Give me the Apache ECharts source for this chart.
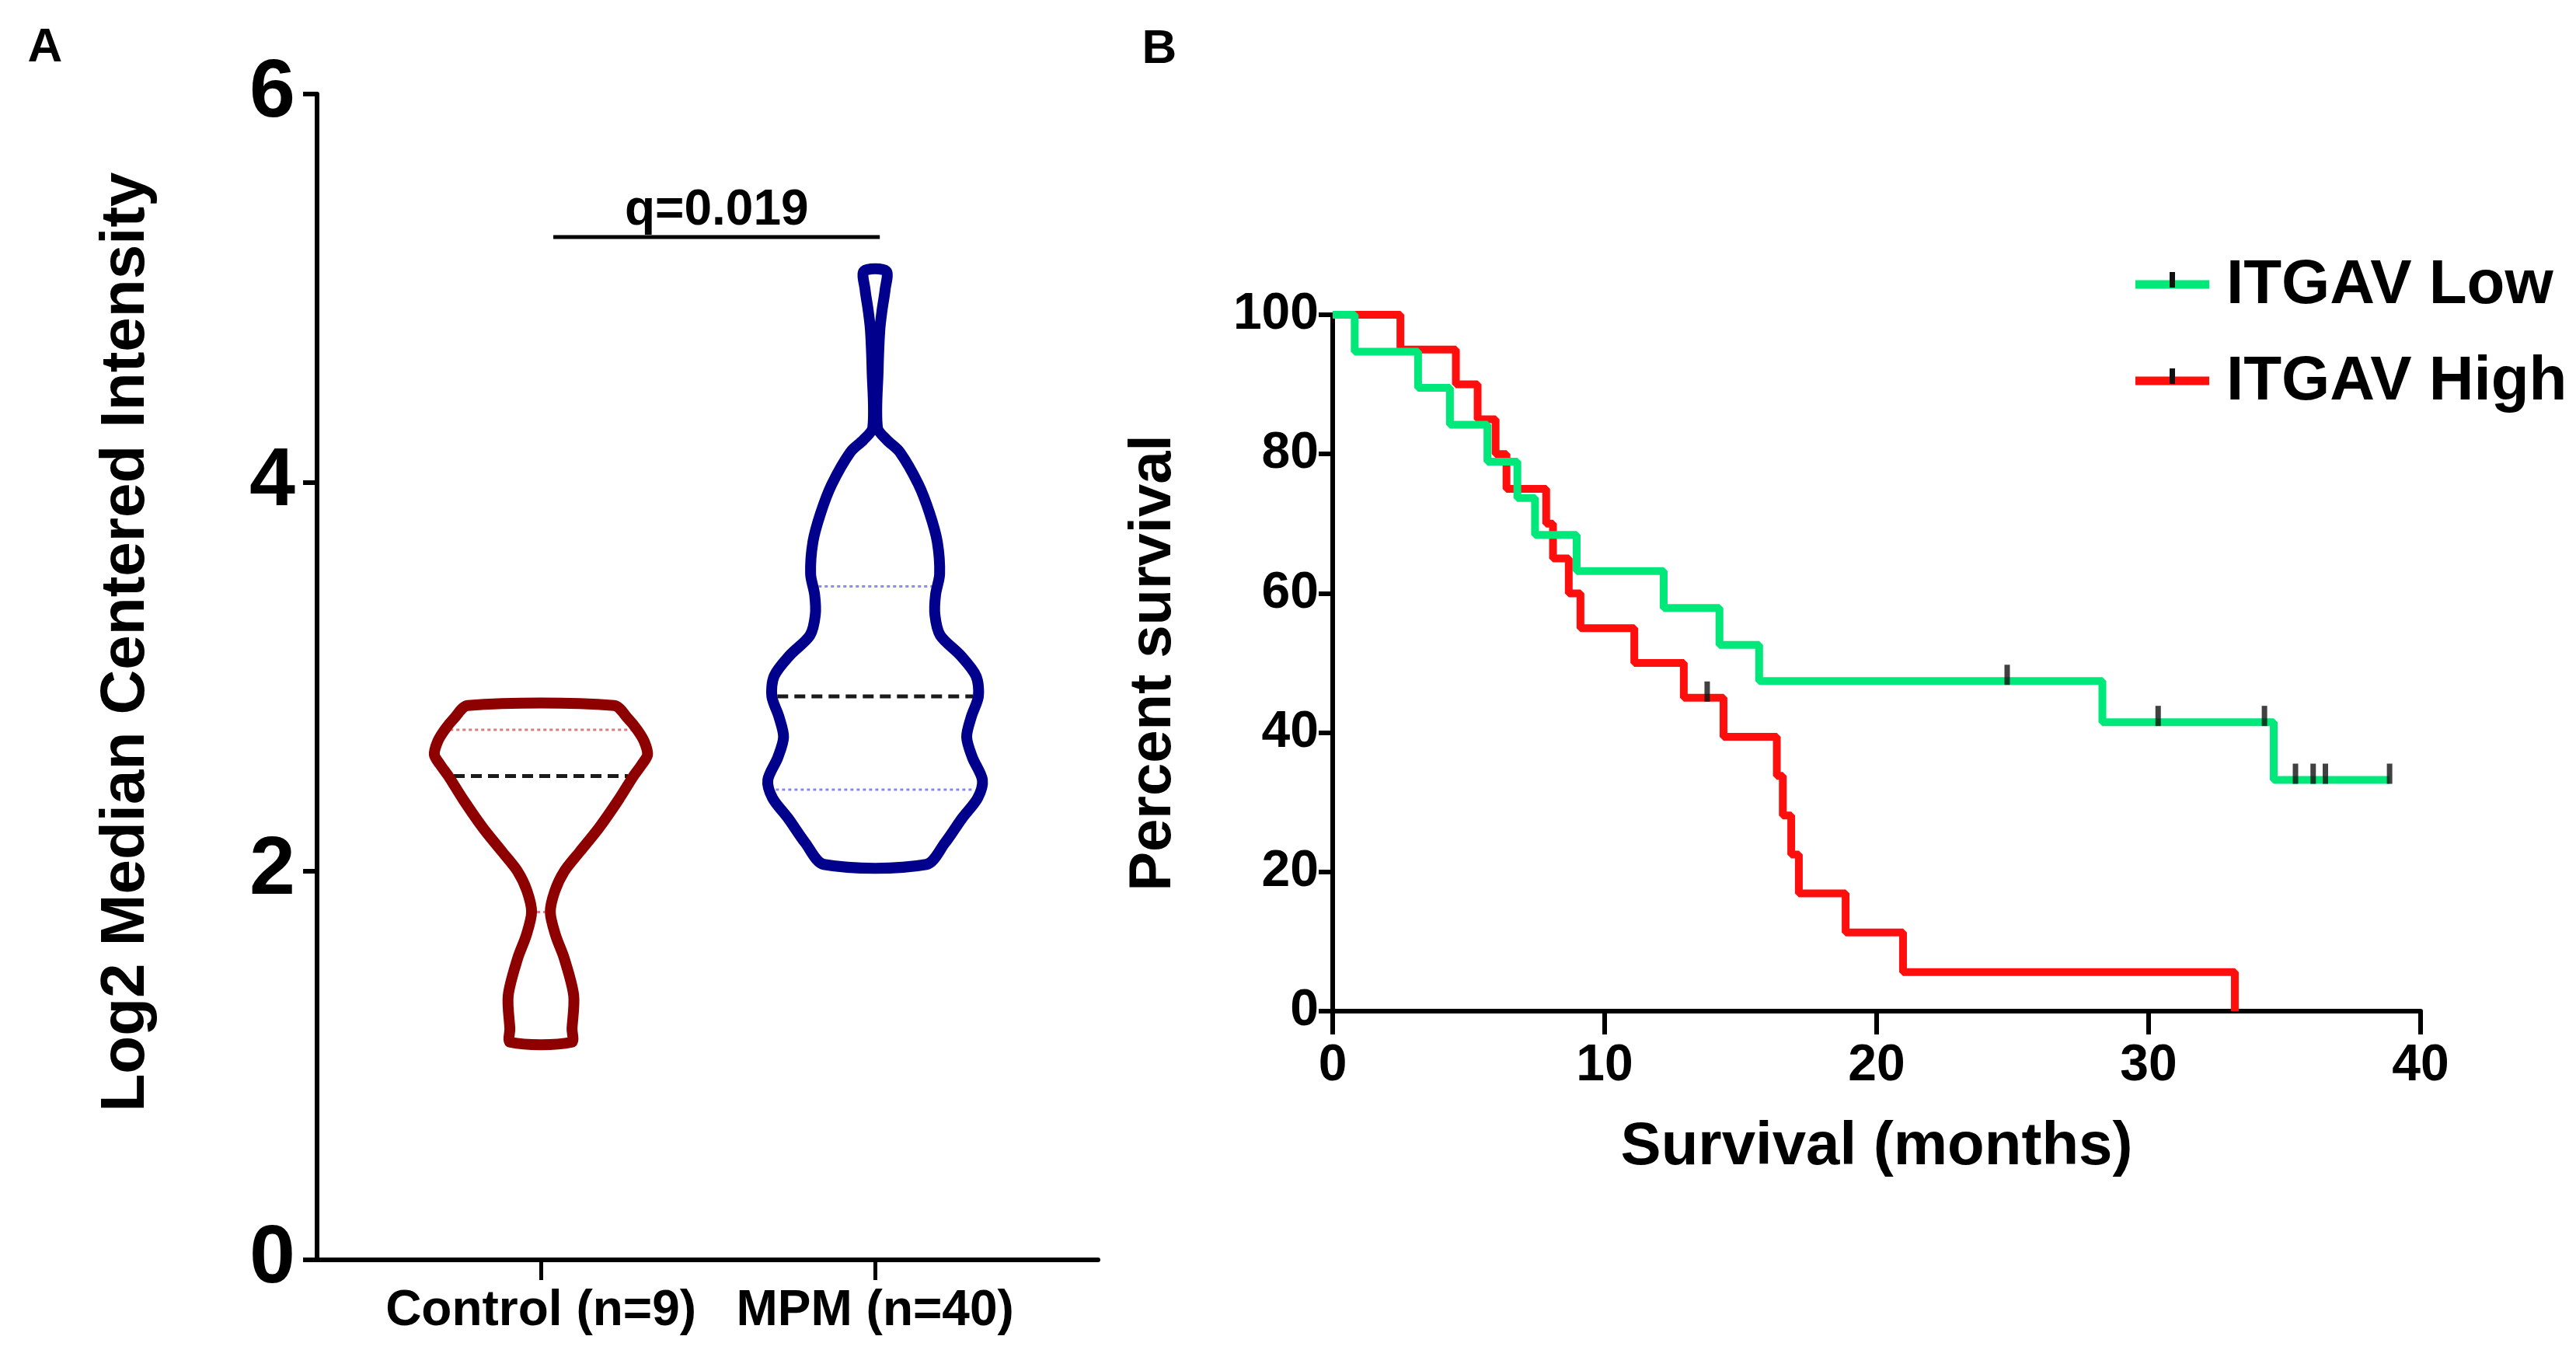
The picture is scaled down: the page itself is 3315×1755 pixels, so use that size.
<!DOCTYPE html>
<html>
<head>
<meta charset="utf-8">
<script src="https://cdn.jsdelivr.net/npm/echarts@6.0.0/dist/echarts.min.js"></script>
<style>
  html, body { margin: 0; padding: 0; background: #fff; }
  #chart { width: 3315px; height: 1755px; }
</style>
</head>
<body>
<div id="chart"></div>
<script>
// Panel A: violin outlines (level, half width in category units)
var groupNames = ['Control (n=9)', 'MPM (n=40)'];

var controlLevels = [2.853, 2.787, 2.728, 2.668, 2.60, 2.55, 2.49, 2.37, 2.224, 2.10, 2.00, 1.90, 1.79, 1.67, 1.55, 1.36, 1.19, 1.12];
var controlHalf   = [0.219, 0.260, 0.288, 0.309, 0.319, 0.302, 0.277, 0.233, 0.174, 0.116, 0.070, 0.042, 0.028, 0.044, 0.070, 0.098, 0.093, 0.091];
var controlStats  = [1.79, 2.49, 2.728];   // q1, median, q3

var mpmLevels = [5.089, 4.994, 4.890, 4.785, 4.576, 4.283, 4.22, 4.157, 3.99, 3.843, 3.696, 3.529, 3.424, 3.319, 3.214, 3.110, 3.005, 2.900, 2.796, 2.691, 2.586, 2.470, 2.377, 2.272, 2.146, 2.035];
var mpmHalf   = [0.033, 0.030, 0.021, 0.014, 0.009, 0.007, 0.035, 0.074, 0.130, 0.163, 0.186, 0.193, 0.181, 0.179, 0.195, 0.256, 0.302, 0.309, 0.288, 0.274, 0.291, 0.321, 0.307, 0.260, 0.209, 0.153];
var mpmStats  = [2.42, 2.90, 3.466];

var yTicksA = [0, 2, 4, 6];
var qLabel = 'q=0.019';

// Panel B: Kaplan-Meier steps (months, percent survival)
var lowTimes    = [0, 0.81, 3.14, 4.31, 5.69, 6.79, 7.44, 8.97, 12.17, 14.22, 15.68, 28.3, 34.6, 38.86];
var lowSurvival = [100, 94.7, 89.5, 84.2, 78.9, 73.7, 68.4, 63.2, 57.9, 52.6, 47.4, 41.5, 33.2, 33.2];
var lowCensorTimes    = [24.8, 30.35, 34.26, 35.4, 36.05, 36.5, 38.86];
var lowCensorSurvival = [47.4, 41.5, 41.5, 33.2, 33.2, 33.2, 33.2];

var highTimes    = [0, 2.49, 4.53, 5.33, 5.99, 6.39, 7.85, 8.1, 8.68, 9.11, 11.09, 12.91, 14.37, 16.33, 16.55, 16.86, 17.14, 18.86, 20.97, 33.17];
var highSurvival = [100, 95, 90, 85, 80, 75, 70, 65, 60, 55, 50, 45, 39.4, 33.8, 28.1, 22.5, 16.9, 11.3, 5.6, 0];
var highCensorTimes    = [13.77];
var highCensorSurvival = [45];

var seriesNames = ['ITGAV Low', 'ITGAV High'];

var FONT = 'Liberation Sans, Arial, sans-serif';
var GREEN = '#00E87A';
var RED = '#FF0E0E';

function zip(a, b) { return a.map(function (v, i) { return [v, b[i]]; }); }

var violins = [
  { levels: controlLevels, half: controlHalf, stats: controlStats, color: '#8E0000', qColor: '#E07A7A' },
  { levels: mpmLevels, half: mpmHalf, stats: mpmStats, color: '#00008C', qColor: '#8C8CE6' }
];

function halfAt(g, level) {
  for (var i = 0; i < g.levels.length - 1; i++) {
    var a = g.levels[i], b = g.levels[i + 1];
    if ((level <= a && level >= b)) {
      var t = (a - level) / (a - b);
      return g.half[i] + t * (g.half[i + 1] - g.half[i]);
    }
  }
  return 0;
}

function renderViolin(params, api) {
  var g = violins[params.dataIndex];
  var cx = api.value(0);
  var right = [], left = [];
  for (var i = 0; i < g.levels.length; i++) {
    right.push(api.coord([cx + g.half[i], g.levels[i]]));
    left.unshift(api.coord([cx - g.half[i], g.levels[i]]));
  }
  var children = [];
  g.stats.forEach(function (lv, k) {
    var h = halfAt(g, lv);
    var p1 = api.coord([cx - h, lv]);
    var p2 = api.coord([cx + h, lv]);
    var median = k === 1;
    children.push({
      type: 'line',
      shape: { x1: p1[0] + 7, y1: p1[1], x2: p2[0] - 7, y2: p2[1] },
      style: {
        stroke: median ? '#1a1a1a' : g.qColor,
        lineWidth: median ? 5 : 3,
        lineDash: median ? [14, 8] : [4, 4]
      }
    });
  });
  children.push({
    type: 'polygon',
    shape: { points: right.concat(left), smooth: 0.3 },
    style: { fill: 'none', stroke: g.color, lineWidth: 14, lineJoin: 'round' }
  });
  return { type: 'group', children: children };
}

var chart = echarts.init(document.getElementById('chart'), null, { renderer: 'canvas' });

var axisLine = { show: true, lineStyle: { color: '#000', width: 6 } };

var option = {
  backgroundColor: '#fff',
  animation: false,
  grid: [
    { left: 408, top: 121, width: 1005, height: 1500 },
    { left: 1715, top: 405, width: 1400, height: 896 }
  ],
  xAxis: [
    {
      gridIndex: 0, type: 'value', min: 0.33, max: 2.667,
      splitLine: { show: false },
      axisLine: axisLine,
      axisTick: { show: true, customValues: [1, 2], length: 26, lineStyle: { width: 5, color: '#000' } },
      axisLabel: {
        customValues: [1, 2], margin: 34,
        formatter: function (v) { return groupNames[Math.round(v) - 1]; },
        color: '#000', fontFamily: FONT, fontWeight: 'bold', fontSize: 64
      }
    },
    {
      gridIndex: 1, type: 'value', min: 0, max: 40, interval: 10,
      splitLine: { show: false },
      axisLine: axisLine,
      axisTick: { show: true, length: 30, lineStyle: { width: 6, color: '#000' } },
      axisLabel: { margin: 38, color: '#000', fontFamily: FONT, fontWeight: 'bold', fontSize: 66 },
      name: 'Survival (months)', nameLocation: 'middle', nameGap: 136,
      nameTextStyle: { color: '#000', fontFamily: FONT, fontWeight: 'bold', fontSize: 78 }
    }
  ],
  yAxis: [
    {
      gridIndex: 0, type: 'value', min: 0, max: 6, interval: 2,
      splitLine: { show: false },
      axisLine: axisLine,
      axisTick: { show: true, customValues: yTicksA, length: 18, lineStyle: { width: 6, color: '#000' } },
      axisLabel: { margin: 28, color: '#000', fontFamily: FONT, fontWeight: 'bold', fontSize: 106 }
    },
    {
      gridIndex: 1, type: 'value', min: 0, max: 100, interval: 20,
      splitLine: { show: false },
      axisLine: axisLine,
      axisTick: { show: true, length: 18, lineStyle: { width: 6, color: '#000' } },
      axisLabel: { margin: 18, color: '#000', fontFamily: FONT, fontWeight: 'bold', fontSize: 66 },
      name: 'Percent survival', nameLocation: 'middle', nameGap: 192,
      nameTextStyle: { color: '#000', fontFamily: FONT, fontWeight: 'bold', fontSize: 76 }
    }
  ],
  series: [
    {
      type: 'custom', xAxisIndex: 0, yAxisIndex: 0,
      renderItem: renderViolin,
      data: [[1, 0], [2, 1]]
    },
    {
      name: seriesNames[1], type: 'line', xAxisIndex: 1, yAxisIndex: 1,
      step: 'end', showSymbol: false, symbol: 'none',
      lineStyle: { color: RED, width: 10 },
      data: zip(highTimes, highSurvival)
    },
    {
      name: seriesNames[0], type: 'line', xAxisIndex: 1, yAxisIndex: 1,
      step: 'end', showSymbol: false, symbol: 'none',
      lineStyle: { color: GREEN, width: 10 },
      data: zip(lowTimes, lowSurvival)
    },
    {
      type: 'scatter', xAxisIndex: 1, yAxisIndex: 1, z: 5,
      symbol: 'rect', symbolSize: [7, 26], symbolOffset: [0, -8],
      itemStyle: { color: '#111' },
      data: zip(lowCensorTimes, lowCensorSurvival).concat(zip(highCensorTimes, highCensorSurvival))
    }
  ]
};
chart.setOption(option);

// annotations placed through the axes
var b1 = chart.convertToPixel({ xAxisIndex: 0, yAxisIndex: 0 }, [1.037, 5.264]);
var b2 = chart.convertToPixel({ xAxisIndex: 0, yAxisIndex: 0 }, [2.014, 5.264]);
var qp = chart.convertToPixel({ xAxisIndex: 0, yAxisIndex: 0 }, [1.526, 5.40]);

function legendItem(y, color, label) {
  return {
    type: 'group', x: 2748, y: y,
    children: [
      { type: 'line', shape: { x1: 0, y1: 0, x2: 95, y2: 0 }, style: { stroke: color, lineWidth: 11 } },
      { type: 'rect', shape: { x: 44, y: -16, width: 7, height: 20 }, style: { fill: '#111' } },
      { type: 'text', x: 117, y: 2, style: { text: label, fill: '#000', font: 'bold 80px ' + FONT, verticalAlign: 'middle' } }
    ]
  };
}

chart.setOption({
  graphic: [
    { type: 'text', x: 58, y: 62, style: { text: 'A', fill: '#000', font: 'bold 62px ' + FONT, align: 'center', verticalAlign: 'middle' } },
    { type: 'text', x: 1492, y: 64, style: { text: 'B', fill: '#000', font: 'bold 62px ' + FONT, align: 'center', verticalAlign: 'middle' } },
    {
      type: 'text', x: 163, y: 826, rotation: Math.PI / 2,
      style: { text: 'Log2 Median Centered Intensity', fill: '#000', font: 'bold 80px ' + FONT, align: 'center', verticalAlign: 'middle' }
    },
    { type: 'line', shape: { x1: b1[0], y1: b1[1], x2: b2[0], y2: b2[1] }, style: { stroke: '#000', lineWidth: 5 } },
    { type: 'text', x: qp[0], y: qp[1], style: { text: qLabel, fill: '#000', font: 'bold 64px ' + FONT, align: 'center', verticalAlign: 'middle' } },
    legendItem(366, GREEN, seriesNames[0]),
    legendItem(490, RED, seriesNames[1])
  ]
});
</script>
</body>
</html>
